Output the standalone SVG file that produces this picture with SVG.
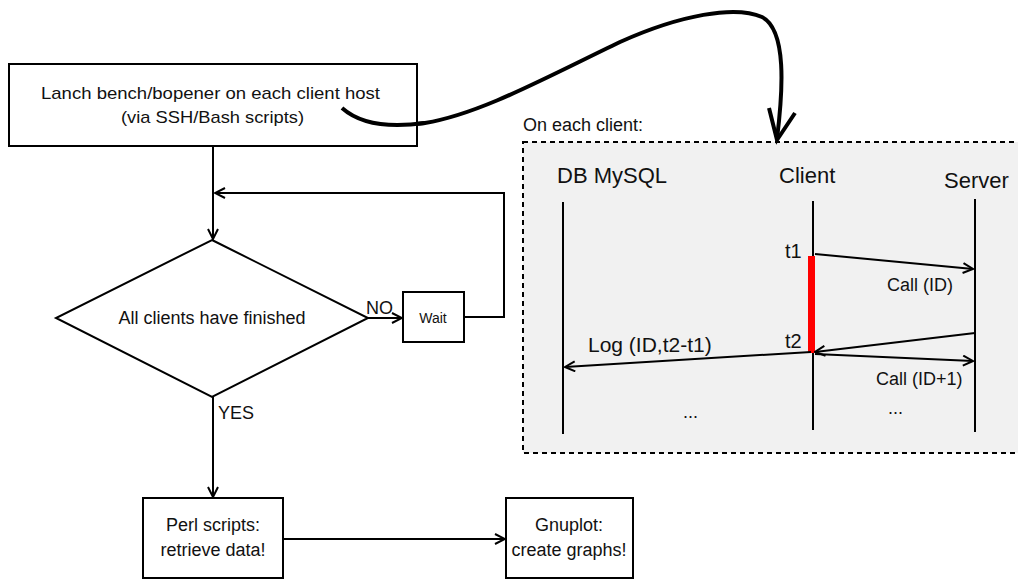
<svg xmlns="http://www.w3.org/2000/svg" width="1018" height="579" viewBox="0 0 1018 579">
<defs>
<style>
text{font-family:"Liberation Sans",Arial,sans-serif;fill:#111}
.n{fill:#fff;stroke:#000;stroke-width:2}
.c{fill:none;stroke:#000;stroke-width:2}
.m{font-size:18px;text-anchor:middle}
.s{font-size:18px}
</style>
<marker id="ah" viewBox="0 0 12 12" refX="11" refY="6" markerWidth="12" markerHeight="12" markerUnits="userSpaceOnUse" orient="auto">
<path d="M1,1 L11,6 L1,11" fill="none" stroke="#000" stroke-width="2"/>
</marker>
</defs>
<rect width="1018" height="579" fill="#fff"/>

<g id="client-panel">
<text x="523" y="131" class="s">On each client:</text>
<rect x="523" y="142" width="500" height="311" fill="#f1f1f1" stroke="#000" stroke-width="2" stroke-dasharray="5,4"/>
<text x="557" y="183" font-size="22">DB MySQL</text>
<text x="779" y="183" font-size="22">Client</text>
<text x="944" y="188" font-size="22">Server</text>
<line x1="563" y1="202" x2="563" y2="434" class="c"/>
<line x1="813" y1="201" x2="813" y2="430" class="c"/>
<line x1="975" y1="199" x2="975" y2="432" class="c"/>
<rect x="808" y="256" width="7" height="97" fill="#f00"/>
<text x="785" y="258" font-size="20">t1</text>
<text x="785" y="348" font-size="20">t2</text>
<line x1="815" y1="254" x2="973" y2="269" class="c" marker-end="url(#ah)"/>
<text x="887" y="291" class="s">Call (ID)</text>
<line x1="975" y1="333" x2="815" y2="352" class="c" marker-end="url(#ah)"/>
<line x1="815" y1="354" x2="973" y2="361" class="c" marker-end="url(#ah)"/>
<text x="876" y="385" class="s">Call (ID+1)</text>
<line x1="811" y1="352" x2="565" y2="367" class="c" marker-end="url(#ah)"/>
<text x="588" y="352" font-size="21">Log (ID,t2-t1)</text>
<text x="683" y="418" class="s">...</text>
<text x="888" y="414" class="s">...</text>
</g>

<g id="connectors">
<line x1="213" y1="146" x2="213" y2="239" class="c" marker-end="url(#ah)"/>
<polyline points="464,317 504,317 504,193 215,193" class="c" marker-end="url(#ah)"/>
<line x1="368" y1="318" x2="402" y2="318" class="c" marker-end="url(#ah)"/>
<line x1="213" y1="397" x2="213" y2="497" class="c" marker-end="url(#ah)"/>
<line x1="283" y1="539" x2="505" y2="539" class="c" marker-end="url(#ah)"/>
<path d="M342,108 C360,124 390,128 425,123 C480,114 545,78 620,42 C680,15 735,5 762,17 C787,30 783,90 777,139" fill="none" stroke="#000" stroke-width="4"/>
<path d="M769,108 L777,140 L795,113" fill="none" stroke="#000" stroke-width="4"/>
<text x="366" y="314" class="s">NO</text>
<text x="218" y="419" class="s">YES</text>
</g>

<g id="launch">
<rect x="9" y="64" width="408" height="82" class="n"/>
<text x="41" y="99" font-size="17" textLength="339" lengthAdjust="spacingAndGlyphs">Lanch bench/bopener on each client host</text>
<text x="121" y="123" font-size="17" textLength="183" lengthAdjust="spacingAndGlyphs">(via SSH/Bash scripts)</text>
</g>

<path d="M342,108 C360,124 390,128 425,123" fill="none" stroke="#000" stroke-width="4"/>

<g id="decision">
<polygon points="212,240 368,318 212,397 56,318" class="n"/>
<text x="212" y="324" class="m">All clients have finished</text>
</g>

<g id="wait">
<rect x="403" y="292" width="61" height="50" class="n"/>
<text x="433" y="323" font-size="14" text-anchor="middle">Wait</text>
</g>

<g id="perl">
<rect x="143" y="498" width="140" height="80" class="n"/>
<text x="213" y="531" class="m">Perl scripts:</text>
<text x="213" y="556" class="m">retrieve data!</text>
</g>

<g id="gnuplot">
<rect x="506" y="498" width="127" height="80" class="n"/>
<text x="569" y="531" class="m">Gnuplot:</text>
<text x="569" y="556" class="m">create graphs!</text>
</g>
</svg>
